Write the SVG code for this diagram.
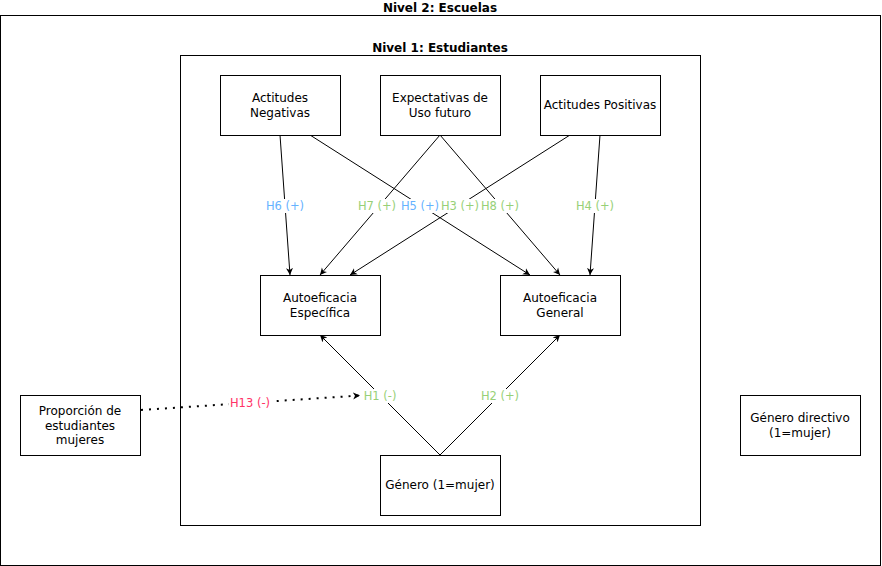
<svg xmlns="http://www.w3.org/2000/svg" width="882" height="566" viewBox="0 0 882 566">
<style>
.box{fill:#fff;stroke:#000;stroke-width:1}
.frame{fill:none;stroke:#000;stroke-width:1}
.t{font-family:"DejaVu Sans",Verdana,sans-serif;font-size:12px;fill:#000;text-anchor:middle}
.l{font-family:"DejaVu Sans",Verdana,sans-serif;font-size:11.5px;text-anchor:middle}
.title{font-family:"DejaVu Sans",Verdana,sans-serif;font-size:12px;font-weight:bold;fill:#000;text-anchor:middle}
.edge{fill:none;stroke:#000;stroke-width:1;marker-end:url(#arr)}
.dot{fill:none;stroke:#000;stroke-width:2;stroke-dasharray:2 6;marker-end:url(#arr)}
.lbg{fill:#fff}
.g{fill:#97D077}
.b{fill:#66B2FF}
.r{fill:#FF3366}
</style>
<defs>
<marker id="arr" markerUnits="userSpaceOnUse" viewBox="0 0 8 8" markerWidth="8" markerHeight="8" refX="7" refY="4" orient="auto">
<path d="M0,0.5 L7,4 L0,7.5 L2,4 Z" fill="#000"/>
</marker>
</defs>
<rect fill="#fff" x="0" y="0" width="882" height="566"/>
<g id="nivel2">
<rect class="frame" x="0.5" y="15.5" width="880" height="550"/>
<text class="title" x="440" y="12">Nivel 2: Escuelas</text>
</g>
<g id="nivel1">
<rect class="frame" x="180.5" y="55.5" width="520" height="470"/>
<text class="title" x="440" y="52">Nivel 1: Estudiantes</text>
</g>
<g id="connectors">
<line class="edge" x1="280" y1="135" x2="290" y2="275"/>
<line class="edge" x1="310" y1="135" x2="530" y2="275"/>
<line class="edge" x1="440" y1="135" x2="320" y2="275"/>
<line class="edge" x1="440" y1="135" x2="560" y2="275"/>
<line class="edge" x1="570" y1="135" x2="350" y2="275"/>
<line class="edge" x1="600" y1="135" x2="590" y2="275"/>
<line class="edge" x1="440" y1="455" x2="320" y2="335"/>
<line class="edge" x1="440" y1="455" x2="560" y2="335"/>
<line class="dot" x1="141" y1="410" x2="360" y2="395.5"/>
<g id="labels">
<rect class="lbg" x="266" y="199" width="38" height="14"/>
<text class="l b" x="285" y="210">H6 (+)</text>
<rect class="lbg" x="358" y="199" width="38" height="14"/>
<text class="l g" x="377" y="210">H7 (+)</text>
<rect class="lbg" x="401" y="199" width="38" height="14"/>
<text class="l b" x="420" y="210">H5 (+)</text>
<rect class="lbg" x="441" y="199" width="38" height="14"/>
<text class="l g" x="460" y="210">H3 (+)</text>
<rect class="lbg" x="481" y="199" width="38" height="14"/>
<text class="l g" x="500" y="210">H8 (+)</text>
<rect class="lbg" x="576" y="199" width="38" height="14"/>
<text class="l g" x="595" y="210">H4 (+)</text>
<rect class="lbg" x="362" y="389" width="36" height="14"/>
<text class="l g" x="380" y="400">H1 (-)</text>
<rect class="lbg" x="481" y="389" width="38" height="14"/>
<text class="l g" x="500" y="400">H2 (+)</text>
<rect class="lbg" x="229" y="396" width="42" height="14"/>
<text class="l r" x="250" y="407">H13 (-)</text>
</g>
</g>
<g id="actitudes-negativas">
<rect class="box" x="220.5" y="75.5" width="120" height="60"/>
<text class="t" x="280" y="102">Actitudes</text>
<text class="t" x="280" y="117">Negativas</text>
</g>
<g id="expectativas">
<rect class="box" x="380.5" y="75.5" width="120" height="60"/>
<text class="t" x="440" y="102">Expectativas de</text>
<text class="t" x="440" y="117">Uso futuro</text>
</g>
<g id="actitudes-positivas">
<rect class="box" x="540.5" y="75.5" width="120" height="60"/>
<text class="t" x="600" y="109">Actitudes Positivas</text>
</g>
<g id="autoeficacia-especifica">
<rect class="box" x="260.5" y="275.5" width="120" height="60"/>
<text class="t" x="320" y="302">Autoeficacia</text>
<text class="t" x="320" y="317">Específica</text>
</g>
<g id="autoeficacia-general">
<rect class="box" x="500.5" y="275.5" width="120" height="60"/>
<text class="t" x="560" y="302">Autoeficacia</text>
<text class="t" x="560" y="317">General</text>
</g>
<g id="genero">
<rect class="box" x="380.5" y="455.5" width="120" height="60"/>
<text class="t" x="440" y="489">Género (1=mujer)</text>
</g>
<g id="proporcion">
<rect class="box" x="20.5" y="395.5" width="120" height="60"/>
<text class="t" x="80" y="415">Proporción de</text>
<text class="t" x="80" y="429.5">estudiantes</text>
<text class="t" x="80" y="444">mujeres</text>
</g>
<g id="genero-directivo">
<rect class="box" x="740.5" y="395.5" width="120" height="60"/>
<text class="t" x="800" y="422">Género directivo</text>
<text class="t" x="800" y="437">(1=mujer)</text>
</g>
</svg>
